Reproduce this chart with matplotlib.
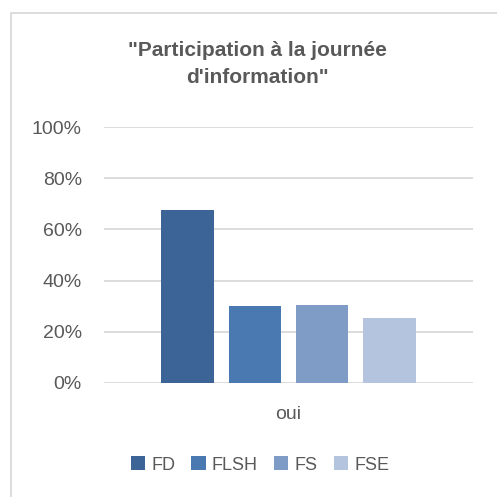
import matplotlib
matplotlib.use("Agg")
import matplotlib.pyplot as plt
from matplotlib.lines import Line2D
import numpy as np

categories = ["oui"]
series_names = ["FD", "FLSH", "FS", "FSE"]
values = {
    "FD": [0.677],
    "FLSH": [0.299],
    "FS": [0.303],
    "FSE": [0.252],
}
colors = ["#3C6496", "#4A78B0", "#7F9CC7", "#B4C3DE"]
yticks = [0, 0.2, 0.4, 0.6, 0.8, 1.0]
ytick_labels = ["0%", "20%", "40%", "60%", "80%", "100%"]
title = "\"Participation à la journée\nd'information\""

plt.rcParams['font.family'] = ['Liberation Sans', 'DejaVu Sans']
txt = "#595959"

fig = plt.figure(figsize=(4.97, 4.97), dpi=100)
W = H = 497.0
# chart border (only left and top edges are visible in the crop)
fig.add_artist(Line2D([11 / W, 11 / W, 1.0], [0.0, 1 - 13 / H, 1 - 13 / H],
                      transform=fig.transFigure, color="#D9D9D9", linewidth=1.3))

ax = fig.add_axes([104 / W, 1 - 382.7 / H, (473 - 104) / W, (382.7 - 127.3) / H])
x = np.arange(len(categories))
width = 0.1436
step = 0.1816
handles = []
for i, name in enumerate(series_names):
    off = (i - (len(series_names) - 1) / 2) * step
    b = ax.bar(x + off, values[name], width, color=colors[i], label=name, zorder=3)
    handles.append(b)

ax.set_xlim(-0.5, 0.5)
ax.set_ylim(0, 1.0)
ax.set_yticks(yticks)
ax.set_yticklabels(ytick_labels)
ax.set_xticks(x)
ax.set_xticklabels(categories)
ax.tick_params(axis='both', length=0, labelsize=14, colors=txt)
ax.tick_params(axis='y', pad=16)
ax.tick_params(axis='x', pad=17)
ax.grid(axis='y', color="#D9D9D9", linewidth=1.3, zorder=0)
for s in ax.spines.values():
    s.set_visible(False)

fig.text(257 / W, 1 - 64 / H, title, ha='center', va='center', fontsize=15,
         fontweight='bold', color=txt, linespacing=1.5)

fig.legend(handles=handles, labels=series_names, loc='center',
           bbox_to_anchor=(260 / W, 1 - 465 / H), ncol=4, frameon=False,
           fontsize=13, labelcolor=txt, handlelength=0.78, handleheight=0.78,
           handletextpad=0.35, columnspacing=0.9)

fig.savefig("out.png", dpi=100)
